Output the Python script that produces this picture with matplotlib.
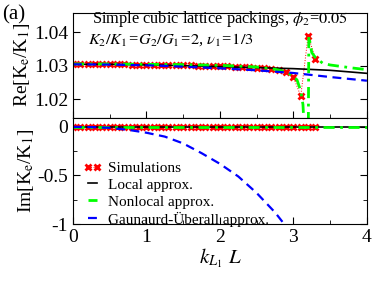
import numpy as np
import matplotlib
matplotlib.use("Agg")
import matplotlib.pyplot as plt
from matplotlib.ticker import MultipleLocator

plt.rcParams['font.family'] = ['Liberation Serif', 'DejaVu Serif']
plt.rcParams['mathtext.fontset'] = 'stix'

# simulations, kL = 0 .. 3.3
simX = np.round(np.arange(0, 3.31, 0.1), 2)
simRe = [1.0305, 1.0305, 1.0305, 1.0305, 1.0305, 1.0305, 1.0305, 1.0305,
         1.0304, 1.0304, 1.0304, 1.0304, 1.0303, 1.0303, 1.0303, 1.0302,
         1.0302, 1.0301, 1.0301, 1.0300, 1.0300, 1.0299, 1.0298, 1.0297,
         1.0296, 1.0295, 1.0293, 1.0291, 1.0287, 1.0282, 1.0267, 1.0210,
         1.0390, 1.0322]
simIm = [0.0] * len(simX)

# local approximation
localX = [0.0, 0.5, 1.0, 1.5, 2.0, 2.5, 3.0, 3.5, 4.0]
localRe = [1.0305, 1.0305, 1.0303, 1.0301, 1.0298, 1.0295, 1.0292, 1.0287, 1.0278]
localIm = [0.0] * len(localX)

# nonlocal approximation
nonlocX = [0.0, 0.5, 1.0, 1.5, 2.0, 2.5, 2.7, 2.8, 2.9, 3.0, 3.05, 3.1, 3.13,
           3.15, 3.17, 3.2, 3.21, 3.25, 3.3, 3.4, 3.5, 3.6, 3.8, 4.0]
nonlocRe = [1.0306, 1.0306, 1.0305, 1.0304, 1.0302, 1.0297, 1.0292, 1.0288,
            1.0282, 1.0270, 1.0258, 1.0225, 1.0185, 1.0100, 0.9900, 1.0000,
            1.0390, 1.0340, 1.0325, 1.0308, 1.0303, 1.0300, 1.0294, 1.0289]
nonlocImX = [0.0, 4.0]
nonlocIm = [0.0, 0.0]

# Gaunaurd-Uberall approximation
guX = [0.0, 0.5, 1.0, 1.5, 2.0, 2.5, 3.0, 3.5, 4.0]
guRe = [1.0305, 1.0304, 1.0302, 1.0298, 1.0293, 1.0287, 1.0279, 1.0267, 1.0256]
guImX = [0.0, 0.25, 0.5, 0.75, 1.0, 1.25, 1.5, 1.75, 2.0, 2.25, 2.5, 2.75, 3.0]
guIm = [0.0, -0.002, -0.01, -0.03, -0.06, -0.10, -0.17, -0.27, -0.38, -0.51,
        -0.68, -0.88, -1.12]

fig = plt.figure(figsize=(3.74, 2.84), dpi=100)
ax1 = fig.add_axes([0.195, 0.585, 0.786, 0.369])
ax2 = fig.add_axes([0.195, 0.211, 0.786, 0.374])

simStyle = dict(color='red', ls=':', lw=0.7, marker='x', ms=5, mew=2)
for ax, sy, ly, ny_x, ny, gx, gy in [(ax1, simRe, localRe, nonlocX, nonlocRe, guX, guRe),
                                     (ax2, simIm, localIm, nonlocImX, nonlocIm, guImX, guIm)]:
    ax.plot(simX, sy, label='Simulations', **simStyle)
    ax.plot(localX, ly, color='black', lw=1.2, label='Local approx.')
    ax.plot(ny_x, ny, color='#00ff00', lw=2.0, ls=(0, (4, 2, 1, 2)),
            label='Nonlocal approx.')
    ax.plot(gx, gy, color='blue', lw=1.6, ls=(0, (4, 2.5)),
            label='Gaunaurd-\u00dcberall approx.')

for ax in (ax1, ax2):
    ax.set_xlim(0, 4)
    ax.xaxis.set_major_locator(MultipleLocator(1))
    ax.xaxis.set_minor_locator(MultipleLocator(0.5))
    ax.tick_params(which='both', direction='in', right=True, labelsize=14)
    ax.tick_params(which='major', length=5)
    ax.tick_params(which='minor', length=3)

ax1.set_ylim(1.0145, 1.0458)
ax1.set_yticks([1.02, 1.03, 1.04])
ax1.set_yticklabels(['1.02', '1.03', '1.04'])
ax1.tick_params(labelbottom=False)
ax1.set_ylabel(r'Re[K$_\mathrm{e}$/K$_\mathrm{1}$]', fontsize=14, labelpad=1)

ax2.set_ylim(-1, 0.093)
ax2.set_yticks([0, -0.5, -1])
ax2.set_yticklabels(['0', '-0.5', '-1'])
ax2.yaxis.set_minor_locator(MultipleLocator(0.25))
ax2.set_ylabel(r'Im[K$_\mathrm{e}$/K$_\mathrm{1}$]', fontsize=14, labelpad=1)
ax2.set_xlabel(r'$k_{L_1}\ L$', fontsize=15, labelpad=0)

ax1.text(0.26, 1.0429, r'Simple cubic lattice packings, $\phi_2$=$\mathit{0.05}$',
         fontsize=11.8)
ax1.text(0.2, 1.0368, r'$K_2/K_1$=$G_2/G_1$=$\mathit{2}$, $\nu_1$=$\mathit{1/3}$',
         fontsize=11.8, style='italic')

ax2.legend(loc='lower left', bbox_to_anchor=(0.035, -0.025), frameon=False,
           fontsize=11, numpoints=2, handlelength=1.2, handletextpad=0.4,
           labelspacing=0.2, borderpad=0, borderaxespad=0)

fig.text(0.005, 0.93, '(a)', fontsize=15)

fig.savefig('out.png', dpi=100)
